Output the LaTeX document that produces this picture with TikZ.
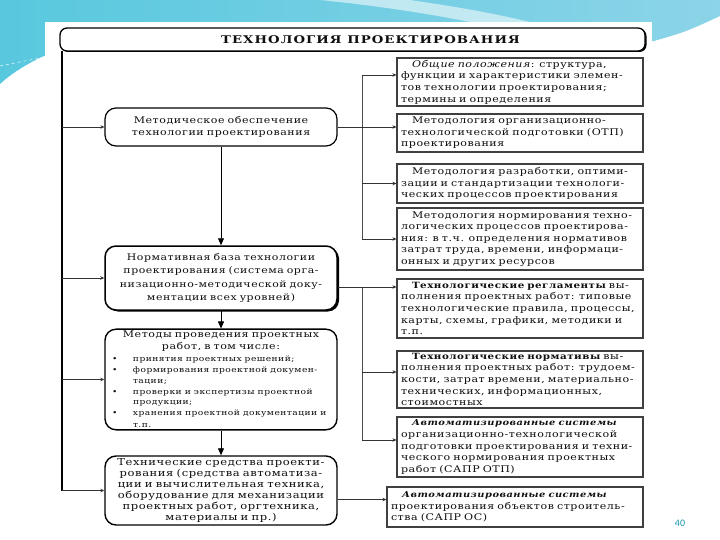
\documentclass[tikz,border=0pt]{standalone}
\usepackage{fontspec}
\setmainfont{DejaVu Serif}[FakeStretch=1.2, LetterSpace=6]
\newfontfamily\titlefont{DejaVu Serif}[FakeStretch=1.25, LetterSpace=10]
\newfontfamily\pagefont{Carlito}
\usetikzlibrary{arrows.meta, calc, shadows}

\definecolor{ink}{RGB}{15,15,15}
\definecolor{wavecyan}{RGB}{88,200,222}
\definecolor{waveblue}{RGB}{112,172,214}
\definecolor{wavelight}{RGB}{140,212,232}
\definecolor{pagenum}{RGB}{20,150,175}

\newcommand\rtxt{\fontsize{9.2}{11.6}\selectfont}
\newcommand\ltxt{\fontsize{9.2}{12}\selectfont}
\newcommand\btxt{\fontsize{9.1}{13.5}\selectfont}
\newcommand\stxt{\fontsize{7.6}{10.8}\selectfont}
\newcommand\hd[1]{{\fontsize{8.6}{11.6}\selectfont\bfseries #1}}
\newcommand\hdi[1]{{\fontsize{8.2}{11.6}\selectfont\bfseries\itshape #1}}

\tikzset{
	titlebox/.style={draw, fill=white, rounded corners=7pt, line width=1.3pt,
		minimum width=585pt, minimum height=23pt, text=ink,
		font=\titlefont\bfseries\fontsize{10.6}{12}\selectfont,
		drop shadow={shadow xshift=1.5pt, shadow yshift=-1pt, opacity=1, fill=black}},
	leftbox/.style={draw, fill=white, rounded corners=11pt, line width=1.2pt,
		text width=224pt, inner xsep=4pt, align=center, text=ink},
	heavybox/.style={leftbox, line width=1.5pt,
		drop shadow={shadow xshift=2pt, shadow yshift=-1.5pt, opacity=1, fill=black}},
	rightbox/.style={draw=black!75, fill=white, line width=1.1pt,
		text width=238pt, inner xsep=4pt, inner ysep=2pt, align=left,
		font=\rtxt, text=ink},
	arr/.style={-{Stealth[length=4pt, width=3.5pt]}, line width=0.7pt, draw=black!80},
	downarr/.style={-{Triangle[length=7pt, width=6pt]}, line width=0.8pt},
	rail/.style={line width=1.6pt},
	bus/.style={line width=1pt, draw=black!70}
}

\begin{document}
\begin{tikzpicture}[x=1pt, y=-1pt]
	\def \railx {62}
	\def \busx {362}
	\useasboundingbox (0,0) rectangle (720,540);

	% slide background
	\fill[white] (0,0) rectangle (720,540);
	\shade[left color=wavecyan, middle color=waveblue, right color=wavelight]
		(0,0) -- (720,0) -- (720,16) .. controls (690,30) and (670,40) .. (610,50)
		-- (60,50) .. controls (40,56) and (15,70) .. (0,84) -- cycle;
	\fill[white, opacity=0.55] (320,0) .. controls (380,6) and (430,14) .. (470,22)
		-- (530,22) .. controls (480,10) and (430,3) .. (410,0) -- cycle;
	\draw[white, dashed, line width=0.4pt] (0,66) -- (45,57);
	\draw[white, line width=0.4pt] (652,42) -- (720,22);
	\fill[white] (45,22) rectangle (652,540);

	\node[titlebox] (title) at (352.5,39.5) {\hspace*{36pt}ТЕХНОЛОГИЯ ПРОЕКТИРОВАНИЯ};

	% left column
	\node[leftbox, minimum height=38pt, font=\ltxt] (method) at (221,127)
		{Методическое обеспечение\\технологии проектирования};
	\node[heavybox, minimum height=64pt, font=\btxt] (normbase) at (221,278)
		{Нормативная база технологии\\проектирования (система орга-\\низационно-методической доку-\\ментации всех уровней)};
	\node[leftbox, line width=1.4pt, minimum height=97pt, inner ysep=2pt, align=left, font=\ltxt] (workmethods) at (221,379.5)
		{\makebox[224pt]{Методы проведения проектных}\\\makebox[224pt]{работ, в том числе:}\\[1pt]
		{\stxt\hspace*{3pt}\makebox[21pt][l]{\textbullet}принятия проектных решений;\\
		\hspace*{3pt}\makebox[21pt][l]{\textbullet}формирования проектной докумен-\\
		\hspace*{24pt}тации;\\
		\hspace*{3pt}\makebox[21pt][l]{\textbullet}проверки и экспертизы проектной\\
		\hspace*{24pt}продукции;\\
		\hspace*{3pt}\makebox[21pt][l]{\textbullet}хранения проектной документации~и\\
		\hspace*{24pt}т.п.}};
	\node[leftbox, line width=1.4pt, minimum height=69pt, inner ysep=1pt, font=\fontsize{9.6}{11}\selectfont] (techtools) at (221,490.5)
		{Технические средства проекти-\\рования (средства автоматиза-\\ции и вычислительная техника,\\оборудование для механизации\\проектных работ, оргтехника,\\материалы и пр.)};

	% right column
	\node[rightbox, minimum height=46pt] (general) at (520,82)
		{\hspace*{1.2em}\textit{Общие положения}: структура,\\функции и характеристики элемен-\\тов технологии проектирования;\\термины и определения};
	\node[rightbox, minimum height=38pt] (orgprep) at (520,133)
		{\hspace*{1.2em}Методология организационно-\\технологической подготовки (ОТП)\\проектирования};
	\node[rightbox, minimum height=39pt] (develop) at (520,183.5)
		{\hspace*{1.2em}Методология разработки, оптими-\\зации и стандартизации технологи-\\ческих процессов проектирования};
	\node[rightbox, minimum height=62pt] (norming) at (520,239)
		{\hspace*{1.2em}Методология нормирования техно-\\логических процессов проектирова-\\ния: в т.ч. определения нормативов\\затрат труда, времени, информаци-\\онных и других ресурсов};
	\node[rightbox, minimum height=59pt] (regl) at (520,308.5)
		{\hspace*{1.2em}\hd{Технологические регламенты}~вы-\\полнения проектных работ: типовые\\технологические правила, процессы,\\карты, схемы, графики, методики и\\т.п.};
	\node[rightbox, minimum height=57pt] (normat) at (520,379.5)
		{\hspace*{1.2em}\hd{Технологические нормативы}~вы-\\полнения проектных работ: трудоем-\\кости, затрат времени, материально-\\технических, информационных,\\стоимостных};
	\node[rightbox, minimum height=60pt] (autootp) at (520,447)
		{\hspace*{1.2em}\hdi{Автоматизированные~системы}\\организационно-технологической\\подготовки проектирования и техни-\\ческого нормирования проектных\\работ (САПР ОТП)};
	\node[rightbox, text width=248pt, minimum height=40pt] (autoos) at (515,507)
		{\hspace*{1.2em}\hdi{Автоматизированные~системы}\\проектирования объектов строитель-\\ства (САПР ОС)};

	% left rail
	\coordinate (railtop) at (\railx,51);
	\draw[rail] (railtop) -- (railtop |- techtools.west);
	\draw[arr] (railtop |- method.west) -- (method.west);
	\draw[arr] (railtop |- normbase.west) -- (normbase.west);
	\draw[arr] (railtop |- workmethods.west) -- (workmethods.west);
	\draw[arr] (railtop |- techtools.west) -- (techtools.west);

	\draw[downarr] (method.south) -- (normbase.north);
	\draw[downarr] (normbase.south) -- (workmethods.north);
	\draw[downarr] (workmethods.south) -- (techtools.north);

	% first bus
	\coordinate (busa) at (\busx,75);
	\draw[bus] (busa) -- (busa |- norming.west);
	\draw[arr] (busa) -- (busa -| general.west);
	\draw[arr] (method.east) -- (method.east -| orgprep.west);
	\draw[arr] (busa |- develop.west) -- (develop.west);
	\draw[arr] (busa |- norming.west) -- (norming.west);

	% second bus
	\coordinate (busb) at (\busx,287);
	\coordinate (busbend) at (\busx,440);
	\draw[bus] (busb) -- (busbend);
	\draw[arr] (busb -| normbase.east) -- (busb -| regl.west);
	\draw[arr] (busb |- 0,372) -- (normat.west |- 0,372);
	\draw[arr] (busbend) -- (busbend -| autootp.west);

	\coordinate (toolsout) at ([yshift=-9pt]techtools.east);
	\draw[arr] (toolsout) -- (toolsout -| autoos.west);

	\node[font=\pagefont\fontsize{10}{12}\selectfont, text=pagenum] (page) at (680,523) {40};
\end{tikzpicture}
\end{document}
